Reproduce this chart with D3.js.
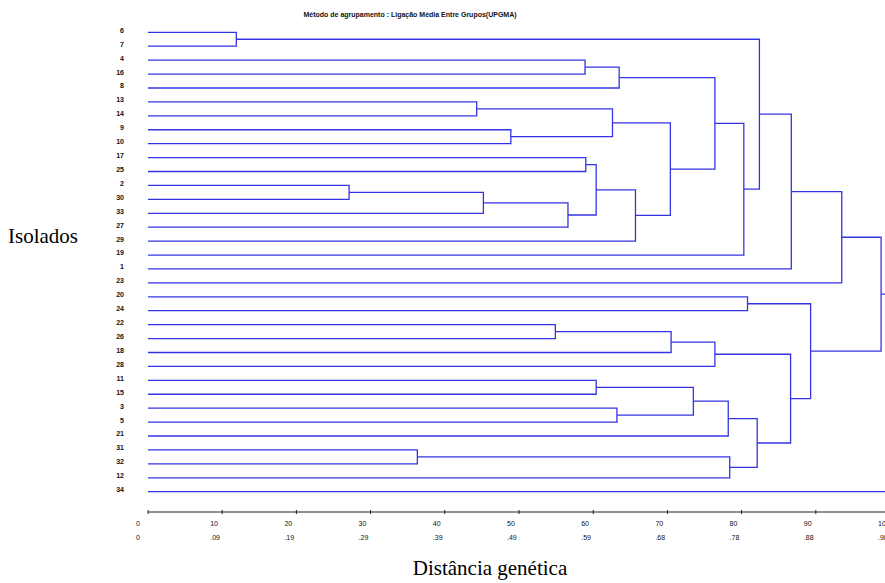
<!DOCTYPE html>
<html><head><meta charset="utf-8">
<script src="https://cdn.jsdelivr.net/npm/d3@7"></script>
<style>html,body{margin:0;padding:0;background:#fff;}svg{display:block;}</style>
</head><body>
<svg id="chart" width="885" height="583"></svg>
<script>
const title = "Método de agrupamento : Ligação Média Entre Grupos(UPGMA)";
const yTitle = "Isolados";
const xTitle = "Distância genética";
const leaves = ["6","7","4","16","8","13","14","9","10","17","25","2","30","33","27","29","19","1","23",
  "20","24","22","26","18","28","11","15","3","5","21","31","32","12","34"];
// [left, right, height]; "Cn" refers to the n-th merge (1-based)
const merges = [
  ["6","7",11.9], ["4","16",58.9], ["C2","8",63.5], ["13","14",44.3], ["9","10",48.9],
  ["C4","C5",62.6], ["17","25",59.0], ["2","30",27.1], ["C8","33",45.2], ["C9","27",56.6],
  ["C7","C10",60.4], ["C11","29",65.7], ["C6","C12",70.4], ["C3","C13",76.4], ["C14","19",80.3],
  ["C1","C15",82.4], ["C16","1",86.7], ["C17","23",93.5], ["20","24",80.8], ["22","26",54.9],
  ["C20","18",70.5], ["C21","28",76.4], ["11","15",60.4], ["3","5",63.2], ["C23","C24",73.5],
  ["C25","21",78.2], ["31","32",36.3], ["C27","12",78.4], ["C26","C28",82.1], ["C22","C29",86.6],
  ["C19","C30",89.3], ["C18","C31",98.8], ["C32","34",100.5]
];
const tickValues = [0,10,20,30,40,50,60,70,80,90,100];
const tickLabels2 = ["0",".09",".19",".29",".39",".49",".59",".68",".78",".88",".98"];

const svg = d3.select("#chart");
const x = d3.scaleLinear().domain([0,100]).range([148,890]);
const y = d3.scalePoint().domain(leaves).range([32.3,491.7]);
const blue = "#3434e4";

const nodes = {};
leaves.forEach(l => nodes[l] = {y: y(l), h: 0});
merges.forEach((m,i) => {
  const a = nodes[m[0]], b = nodes[m[1]];
  nodes["C"+(i+1)] = {y:(a.y+b.y)/2, h:m[2]};
});

const g = svg.append("g").attr("fill","none").attr("stroke",blue).attr("stroke-width",1.3);
merges.forEach(m => {
  const a = nodes[m[0]], b = nodes[m[1]], h = m[2];
  g.append("path").attr("d",
    `M${x(a.h)},${a.y}H${x(h)}V${b.y}H${x(b.h)}`);
});

svg.append("g").selectAll("text").data(leaves).join("text")
  .attr("x",124).attr("y",d=>y(d)-2).attr("dy","0.35em")
  .attr("text-anchor","end")
  .attr("font-family","Liberation Sans, Arial, sans-serif")
  .attr("font-size",7).attr("font-weight","bold").attr("fill","#111")
  .text(d=>d);

const axY = 512;
const ax = svg.append("g");
ax.append("line").attr("x1",x(0)).attr("x2",885).attr("y1",axY).attr("y2",axY)
  .attr("stroke","#222").attr("stroke-width",1);
ax.selectAll("line.tk").data(tickValues).join("line").attr("class","tk")
  .attr("x1",d=>x(d)).attr("x2",d=>x(d)).attr("y1",axY-2).attr("y2",axY+2)
  .attr("stroke","#222").attr("stroke-width",1);
ax.selectAll("text.r1").data(tickValues).join("text").attr("class","r1")
  .attr("x",d=>x(d)-12).attr("y",524).attr("dy","0.35em")
  .attr("font-family","Liberation Sans, Arial, sans-serif").attr("font-size",7).attr("fill","#111")
  .text(d=>d);
ax.selectAll("text.r2").data(tickValues).join("text").attr("class","r2")
  .attr("x",d=>x(d)-12).attr("y",538).attr("dy","0.35em")
  .attr("font-family","Liberation Sans, Arial, sans-serif").attr("font-size",7).attr("fill","#111")
  .text((d,i)=>tickLabels2[i]);

svg.append("text").attr("x",410).attr("y",15).attr("dy","0.35em").attr("text-anchor","middle")
  .attr("font-family","Liberation Sans, Arial, sans-serif").attr("font-size",7).attr("font-weight","bold")
  .attr("fill","#111").text(title);
svg.append("text").attr("x",8).attr("y",243)
  .attr("font-family","Liberation Serif, Times New Roman, serif").attr("font-size",21)
  .attr("fill","#000").text(yTitle);
svg.append("text").attr("x",490).attr("y",575).attr("text-anchor","middle")
  .attr("font-family","Liberation Serif, Times New Roman, serif").attr("font-size",21)
  .attr("fill","#000").text(xTitle);
</script>
</body></html>
